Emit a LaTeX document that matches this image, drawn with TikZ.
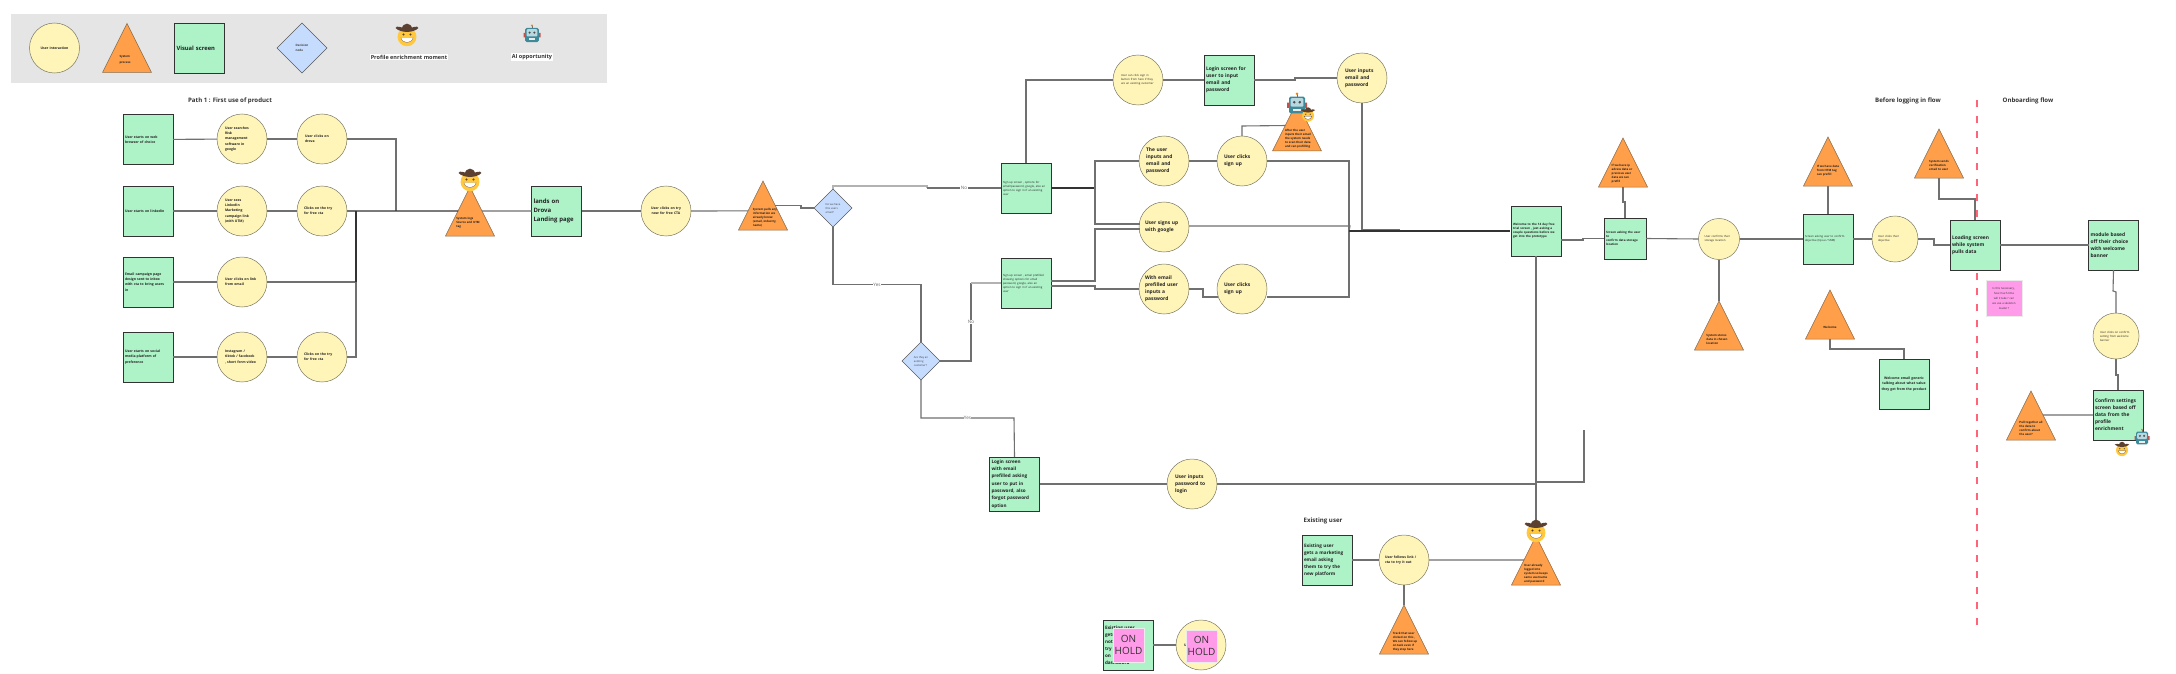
\documentclass[tikz,border=0pt]{standalone}
\usepackage{fontspec}
\setmainfont{Open Sans}
\usetikzlibrary{calc,shapes.geometric}
\definecolor{cyel}{HTML}{FFF5B9}
\definecolor{cora}{HTML}{FF9F4A}
\definecolor{cgrn}{HTML}{AEF2C8}
\definecolor{cblu}{HTML}{C5DCFF}
\definecolor{cpnk}{HTML}{FF9BE8}
\definecolor{cred}{HTML}{FF6478}
\definecolor{cln}{HTML}{707070}
\definecolor{ctx}{HTML}{222222}
\definecolor{cfac}{HTML}{FFC83D}
\definecolor{chat}{HTML}{5C4030}
\definecolor{ctea}{HTML}{3E8A9A}
\definecolor{crfc}{HTML}{B8D8E0}
\definecolor{cear}{HTML}{C8504A}
\definecolor{cout}{HTML}{7A7A66}
\definecolor{ctri}{HTML}{8A6A48}
\newcommand\fs[2]{\fontsize{#1}{#2}\selectfont}
\tikzset{
  x=1pt,y=-1pt,
  screen/.style={rectangle,draw=black!80,line width=0.9pt,fill=cgrn,minimum width=50,minimum height=50,
     text width=46,inner sep=2,outer sep=0,align=left,text=ctx},
  uact/.style={circle,draw=cout,line width=0.5pt,fill=cyel,minimum size=50,inner sep=0,outer sep=0,
     text width=34,align=left,text=ctx},
  dec/.style={diamond,draw=black!65,line width=0.6pt,fill=cblu,minimum width=38,minimum height=38,inner sep=0,outer sep=0,
     align=left,text=black!75},
  tribox/.style={draw=ctri,line width=0.5pt,fill=cora,line join=miter},
  tritext/.style={align=left,inner sep=0,text=ctx,font=\bfseries\fs{2.9}{4}},
  tiny/.style={font=\bfseries\fs{3.4}{5.2}},
  plain/.style={font=\fs{2.8}{4}},
  mid/.style={font=\bfseries\fs{4.9}{7}},
  big/.style={font=\bfseries\fs{6}{9}},
  head/.style={font=\bfseries\fs{6.1}{7},text=black!80,inner sep=0},
  conn/.style={draw=cln,line width=1.1pt},
  darkconn/.style={draw=black!80,line width=1.2pt},
  lightconn/.style={draw=black!30,line width=1.1pt},
  elabel/.style={font=\fs{4.6}{5},fill=white,inner sep=0.4,text=black!60},
  note/.style={rectangle,fill=cpnk,draw=black!8,line width=0.4pt,inner sep=0,text=black!80,align=center},
  legendtext/.style={font=\bfseries\fs{5.5}{6},fill=white,inner sep=1,text=black!80},
  cowboy/.pic={
    \fill[cfac] (0,.08) circle[radius=.43];
    \fill[chat] (-.24,-.26) .. controls (-.2,-.6) and (.2,-.6) .. (.24,-.26) -- cycle;
    \fill[chat] (-.52,-.32) .. controls (-.3,-.08) and (.3,-.08) .. (.52,-.32) .. controls (.46,-.46) and (.3,-.32) .. (0,-.3) .. controls (-.3,-.32) and (-.46,-.46) .. (-.52,-.32) -- cycle;
    \fill[chat] (-.16,-.02) circle[radius=.05] (.16,-.02) circle[radius=.05];
    \fill[white,draw=chat,line width=.2pt] (-.28,.12) .. controls (-.2,.42) and (.2,.42) .. (.28,.12) -- cycle;
  },
  robot/.pic={
    \draw[cln,line width=.3pt] (0,-.42) -- (0,-.56);
    \fill[orange] (0,-.56) circle[radius=.07];
    \fill[cear] (-.5,-.12) rectangle (-.36,.14) (.36,-.12) rectangle (.5,.14);
    \fill[ctea,rounded corners=1.5pt] (-.4,-.42) rectangle (.4,.42);
    \fill[crfc,rounded corners=1pt] (-.32,-.34) rectangle (.32,.08);
    \fill[black!70] (-.14,-.14) circle[radius=.07] (.14,-.14) circle[radius=.07];
    \fill[white!85!gray] (-.18,.2) rectangle (.18,.3);
  },
}
% name, apex x, base y, text x, text y, text
\newcommand\tri[6]{%
  \path[tribox] (#2-24.5,#3) coordinate (#1-l) -- (#2+24.5,#3) coordinate (#1-r) -- (#2,#3-49) coordinate (#1-a) -- cycle;
  \node[tritext] (#1) at (#4,#5) {#6};
}
\begin{document}
\begin{tikzpicture}
\useasboundingbox (0,0) rectangle (2176,674);
\fill[white] (0,0) rectangle (2176,674);
% legend
\fill[black!10] (11,14) rectangle (607,83);
\node[uact,font=\bfseries\fs{3.4}{4},align=center,text width=38] (lgu) at (54.5,48) {User interaction};
\tri{lgt}{127}{72.5}{125}{60}{System\\[1.6pt]process}
\node[screen,font=\bfseries\fs{5.8}{7}] (lgs) at (199.5,48) {Visual screen};
\node[dec,minimum width=50,minimum height=50,font=\bfseries\fs{3}{5}] (lgd) at (302,48) {Decision\\node};
\node[legendtext] (lgp) at (409,57) {Profile enrichment moment};
\node[legendtext] (lga) at (532,57) {AI opportunity};
% titles
\node[head] (h1) at (230,101) {Path 1 : First use of product};
\node[head] (h2) at (1908,101) {Before logging in flow};
\node[head] (h3) at (2028,101) {Onboarding flow};
\node[head] (h4) at (1323,521) {Existing user};
% red divider
\coordinate (rd1) at (1977,100);
\coordinate (rd2) at (1977,628);
\draw[cred,line width=2pt,dash pattern=on 7pt off 8.7pt] (rd1) -- (rd2);
% path 1
\node[screen,tiny] (a1) at (148,139.5) {User starts on web\\browser of choice};
\node[uact,tiny] (a2) at (242,139) {User searches\\Risk\\management\\software in\\google};
\node[uact,tiny] (a3) at (322,139) {User clicks on\\drova};
\node[screen,tiny] (b1) at (148,211) {User starts on linkedin};
\node[uact,tiny] (b2) at (242,211) {User sees\\LinkedIn\\Marketing\\campaign link\\(with UTM)};
\node[uact,tiny,text width=36] (b3) at (322,211) {Clicks on the try\\for free cta};
\node[screen,tiny] (c1) at (148,282) {Email campaign page\\design sent to inbox\\with cta to bring users\\in};
\node[uact,tiny] (c2) at (242,282) {User clicks on link\\from email};
\node[screen,tiny] (d1) at (148,357) {User starts on social\\media platform of\\preference};
\node[uact,tiny] (d2) at (242,357) {Instagram /\\tiktok / facebook\\, short form video};
\node[uact,tiny,text width=36] (d3) at (322,357) {Clicks on the try\\for free cta};
\tri{t1}{470}{236}{468}{222.5}{System logs\\Source and UTM\\tag}
\node[screen,big] (land) at (556.5,211) {lands on\\Drova\\Landing page};
\node[uact,tiny,align=center] (cta) at (666,211) {User clicks on try\\now for free CTA};
\tri{t2}{763}{230}{765}{217.5}{System pulls any\\information we\\already know:\\(email, industry,\\name)}
\node[dec,font=\fs{2.7}{4}] (q1) at (833,208) {Do we have\\this users\\email?};
\node[dec,font=\fs{2.7}{4}] (q2) at (921,361) {Are they an\\existing\\customer?};
\node[screen,plain] (su1) at (1026,188) {Sign up  screen , options for\\email/password, google, also an\\option to sign in if an existing\\user};
\node[screen,plain] (su2) at (1026,283) {Sign up  screen , email prefilled\\showing options for email\\password, google, also an\\option to sign in if an existing\\user};
\node[uact,plain] (si) at (1138,80) {User can click sign in\\button from here if they\\are an existing customer};
\node[screen,mid] (ls) at (1229,80) {Login screen for\\user to input\\email and\\password};
\node[uact,mid] (ui) at (1362,78) {User inputs\\email and\\password};
\node[uact,mid,text width=36] (p1) at (1164,161) {The user\\inputs and\\email and\\password};
\node[uact,mid,text width=36] (p2) at (1242,161) {User clicks\\sign up};
\tri{t3}{1297}{151}{1298}{138.5}{After the user\\inputs their email\\the system needs\\to scan their data\\and can prefilling}
\node[uact,mid,text width=38] (g1) at (1164,227) {User signs up\\with google};
\node[uact,mid,text width=38] (e1) at (1164,289) {With email\\prefilled user\\inputs a\\password};
\node[uact,mid,text width=36] (e2) at (1242,289) {User clicks\\sign up};
\node[screen,font=\bfseries\fs{4.6}{7.3},minimum height=54] (lp) at (1014.5,484) {Login screen\\with email\\prefilled asking\\user to put in\\password, also\\forgot password\\option};
\node[uact,mid] (lpi) at (1192,484) {User inputs\\password to\\login};
% right part
\node[screen,font=\bfseries\fs{3}{4}] (w) at (1536,231) {Welcome to the 14 day free\\trial screen , just asking a\\couple questions before we\\get into the prototype};
\tri{t4}{1623}{187}{1622}{174}{If we have ip\\adress data or\\previous user\\data we can\\prefill}
\node[screen,font=\bfseries\fs{3}{4},minimum width=42,minimum height=41,text width=38] (st) at (1625,238.5) {Screen asking the user to\\confirm data storage\\location};
\node[uact,plain,minimum size=41,text width=29] (stc) at (1719,239) {User confirms their\\storage location};
\tri{t5}{1719}{350}{1717}{339}{System stores\\data in chosen\\location}
\node[screen,plain] (ob) at (1828,239) {Screen asking user to confirm\\objective (tipi.ai / SMB)};
\tri{t6}{1828}{186}{1828}{171}{If we have data\\from HTM tag\\can prefill}
\node[uact,plain,minimum size=46,text width=34] (obc) at (1895,239) {User clicks their\\objective};
\node[screen,mid] (load) at (1975,245) {Loading screen\\while system\\pulls data};
\tri{t7}{1939}{178}{1939}{165}{System sends\\verification\\email to user}
\tri{t8}{1830}{339}{1830}{327}{Welcome}
\node[screen,tiny,align=center] (we) at (1904,384) {Welcome email generic\\talking about what value\\they get from the product};
\node[note,minimum width=36,minimum height=36,font=\fs{2.8}{5}] (n1) at (2004,298) {Is this necessary ,\\how much time\\will it take ? can\\we use a skeleton\\loader ?};
\node[screen,mid] (mod) at (2113.5,245) {module based\\off their choice\\with welcome\\banner};
\node[uact,plain,minimum size=46,text width=32] (mc) at (2116,336) {User clicks on confirm\\setting from welcome\\banner};
\node[screen,mid] (cf) at (2118,415) {Confirm settings\\screen based off\\data from the\\profile\\enrichment};
\tri{t9}{2031}{440}{2031}{428}{Pull together all\\the data to\\confirm about\\the user?}
% existing user
\node[screen,font=\bfseries\fs{4.6}{7}] (x1) at (1327,560) {Existing user\\gets a marketing\\email asking\\them to try the\\new platform};
\node[uact,tiny,text width=38] (x2) at (1404,560) {User follows link /\\cta to  try  it out};
\tri{te}{1536}{585}{1536}{574}{User already\\logged into\\system so keeps\\same username\\and password}
\tri{tb}{1404}{654}{1405}{642}{Track that user\\clicked on this ,\\We can follow up\\on task even if\\they stop here}
\node[screen,font=\bfseries\fs{4.6}{7}] (o1) at (1128,645) {Existing user\\gets a\\notification\\try new features\\on\\dashboard};
\node[uact,tiny] (o2) at (1201,645) {User clicks on it};
\node[note,minimum width=31,minimum height=34,font=\fs{10}{12}] (h1n) at (1128.5,645) {ON\\HOLD};
\node[note,minimum width=31,minimum height=32,font=\fs{10}{12}] (h2n) at (1201.5,646) {ON\\HOLD};
% connectors
\coordinate (tr1) at (356,211);
\coordinate (tr2) at (396,211);
\coordinate (tr3) at (356,282);
\foreach \p/\q in {a1/a2,a2/a3,b1/b2,b2/b3,c1/c2,d1/d2,d2/d3,o1/o2,x1/x2}{\draw[conn] (\p) -- (\q);}
\draw[conn] (a3.east) -| (tr2);
\draw[conn] (b3.east) -- (tr1);
\draw[conn] (c2.east) -- (tr3);
\draw[conn] (d3.east) -| (tr3);
\draw[darkconn] (tr3) -- (tr1);
\draw[darkconn] (tr1) -- ($(t1-a)!.49!(t1-l)$);
\draw[conn] ($(t1-a)!.49!(t1-r)$) -- (land.west);
\draw[conn] (land) -- (cta);
\draw[conn] (cta.east) -- ($(t2-a)!.61!(t2-l)$);
\draw[conn] ($(t2-a)!.5!(t2-r)$) -- (801,205.5) -- (801,208) -- (q1.west);
\draw[lightconn] (q1.north) -- (833,186) -- (927,186) -- (927,188);
\draw[conn] (927,188) -- node[elabel]{No} (su1.west);
\draw[conn] (q1.south) -- (833,284.5) -- node[elabel,pos=.5]{Yes} (921,284.5) -- (q2.north);
\draw[conn] (q2.east) -- (971,361) -- node[elabel,pos=.5]{No} (971,283);
\draw[lightconn] (971,283) -- (su2.west);
\draw[conn] (q2.south) -- (921,418) -- node[elabel,pos=.5]{Yes} (1014,418) -- (lp.north);
\draw[conn] (su1.north) |- (si.west);
\draw[conn] (si) -- (ls);
\draw[conn] (ls.east) -- (1295,80) -- (1295,78) -- (ui.west);
\coordinate (hub) at (1349,231);
\coordinate (wl) at (1510,231);
\draw[darkconn] (su1.east) -- (1095,188);
\draw[conn] (1095,188) |- (p1.west);
\draw[conn] (1095,188) -- (1095,224) -- (1139.5,224);
\draw[conn] (su2.east |- 0,281) -- (1095,281) -- (1095,229) -- (1139.5,229);
\draw[conn] (su2.east |- 0,286) -- (1095,286) -- (1095,289) -- (e1.west);
\draw[conn] (p1) -- (p2);
\draw[conn] (p2.north) -- (1242,126) -- ($(t3-a)!.48!(t3-l)$);
\draw[conn] (e1.east) -- (1203,289) -- (1203,297) -- (1217.5,297);
\draw[conn] (p2.east) -| (hub);
\draw[conn] (g1.east |- 0,226) -- (1350,226) -- (hub);
\draw[conn] (1266.5,297) -| (hub);
\draw[conn] (ui.south) -- (1362,229.5) -- (1400,229.5);
\draw[darkconn] (hub) -- (wl);
\draw[conn] (w.east |- 0,240) -- (1583,240) -- (1583,238.5) -- (st.west);
\draw[conn] (st.north) -- (1625,202) -- (1623,202) -- (t4-a |- t4-l);
\draw[conn] (st.east) -- (stc.west);
\draw[conn] (stc.south) -- (t5-a);
\draw[conn] (stc.east) -- (ob.west);
\draw[conn] (ob.north) -- (ob.north |- t6-l);
\draw[conn] (ob) -- (obc);
\draw[conn] (obc.east) -- (1934,239) -- (1934,245) -- (load.west);
\draw[conn] (t7-a |- t7-l) -- (1939,199) -- (1975,199) -- (load.north);
\draw[conn] (t8-a |- t8-l) -- (1830,349) -- (1904,349) -- (we.north);
\draw[conn] (load) -- (mod);
\draw[conn] (mod.south) -- (2113,291) -- (2116,292) -- (mc.north);
\draw[conn] (mc.south) -- (2116,375) -- (2118,375) -- (cf.north);
\draw[conn] ($(t9-a)!.49!(t9-r)$) -- (cf.west);
\draw[conn] (lp) -- (lpi);
\coordinate (jn) at (w.south |- lpi);
\coordinate (stub) at (1584,430);
\draw[conn] (lpi.east) -- (jn);
\draw[conn] (jn |- 0,482) -| (stub);
\draw[conn] (w.south) -- (te-a);
\draw[conn] (x2.east) -- ($(te-a)!.49!(te-l)$);
\draw[conn] (x2.south) -- (tb-a);
% emoji
\pic[scale=22] at (407,35) {cowboy};
\pic[scale=17] at (532,35) {robot};
\pic[scale=22] at (470,180) {cowboy};
\pic[scale=20] at (1297,105) {robot};
\pic[scale=14] at (1308,114.5) {cowboy};
\pic[scale=22] at (1536,531) {cowboy};
\pic[scale=15] at (2142,438) {robot};
\pic[scale=14] at (2122,449) {cowboy};
\end{tikzpicture}
\end{document}
